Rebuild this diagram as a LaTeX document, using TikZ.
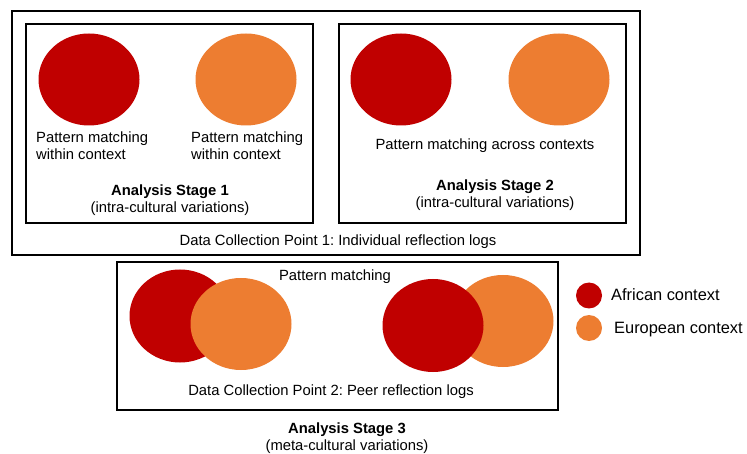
\documentclass[tikz,border=0pt]{standalone}
\usepackage{fontspec}
\setmainfont{Liberation Sans}
\usetikzlibrary{shapes.geometric}
\definecolor{afrc}{RGB}{192,0,0}
\definecolor{eurc}{RGB}{237,125,49}
\frenchspacing

\begin{document}
\begin{tikzpicture}[
  x=1pt, y=-1pt,
  font=\fontsize{14.8pt}{17pt}\selectfont,
  frame/.style 2 args={
    rectangle, draw=black, line width=1.8pt, inner sep=0,
    minimum width=#1, minimum height=#2
  },
  blob/.style={ellipse, fill=#1, inner sep=0,
    minimum width=101pt, minimum height=92pt},
  dot/.style={circle, fill=#1, inner sep=0, minimum size=26pt},
  txt/.style={inner sep=0, align=center},
  ltxt/.style={inner sep=0, align=left, anchor=west},
  legtxt/.style={ltxt, font=\fontsize{16.4pt}{18pt}\selectfont},
]
\useasboundingbox (0,0) rectangle (747,454);

% ---- data collection point 1 ----
\node[frame={628pt}{244pt}] (dcpone) at (326,133) {};
\node[frame={287pt}{199pt}] (stageonebox) at (169.5,123.5) {};
\node[frame={287pt}{199pt}] (stagetwobox) at (482.5,123.5) {};

% ---- stage 1: within context ----
\node[blob=afrc] (afrone) at (89,79.5) {};
\node[blob=eurc] (eurone) at (246,79.5) {};
\node[ltxt] (pmafr) at (36,146) {Pattern matching\\within context};
\node[ltxt] (pmeur) at (191,146) {Pattern matching\\within context};
\node[txt] (stageone) at (170,200)
  {\textbf{Analysis Stage 1}\\(intra-cultural variations)};

% ---- stage 2: across contexts ----
\node[blob=afrc] (afrtwo) at (401,79.5) {};
\node[blob=eurc] (eurtwo) at (559,79.5) {};
\node[txt] (pmacross) at (485,146) {Pattern matching across contexts};
\node[txt] (stagetwo) at (495,195)
  {\textbf{Analysis Stage 2}\\(intra-cultural variations)};

\node[txt] (dcponelbl) at (338,242)
  {Data Collection Point 1: Individual reflection logs};

% ---- data collection point 2 ----
\node[frame={441pt}{148pt}] (dcptwo) at (337.5,336) {};
\node[blob=afrc, minimum height=93pt] (afrthreea) at (180,316) {};
\node[blob=eurc] (eurthreea) at (241,324) {};
\node[blob=eurc] (eurthreeb) at (503,321) {};
\node[blob=afrc, minimum height=93pt] (afrthreeb) at (433,325.5) {};
\node[txt] (pmthree) at (335,277) {Pattern matching};
\node[txt] (dcptwolbl) at (331,392)
  {Data Collection Point 2: Peer reflection logs};
\node[txt] (stagethree) at (347,438)
  {\textbf{Analysis Stage 3}\\(meta-cultural variations)};

% ---- legend ----
\node[dot=afrc] (legafr) at (589,295.5) {};
\node[dot=eurc] (legeur) at (589,328) {};
\node[legtxt] (legafrlbl) at (611,294.5) {African context};
\node[legtxt] (legeurlbl) at (614,329.5) {European context};

\end{tikzpicture}
\end{document}
